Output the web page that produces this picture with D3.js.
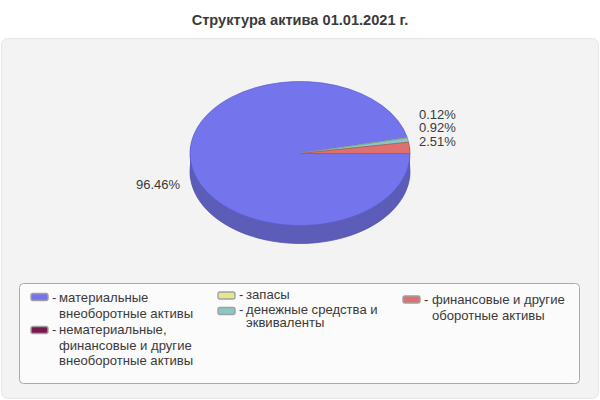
<!DOCTYPE html>
<html>
<head>
<meta charset="utf-8">
<script src="https://d3js.org/d3.v7.min.js"></script>
<style>
  html, body { margin: 0; padding: 0; background: #fff; }
  text { font-family: "Liberation Sans", Arial, sans-serif; fill: #3a3a3a; }
</style>
</head>
<body>
<div class="canvas"></div>
<script>
var title = "Структура актива 01.01.2021 г.";
var categories = ["материальные внеоборотные активы", "нематериальные, финансовые и другие внеоборотные активы", "запасы", "денежные средства и эквиваленты", "финансовые и другие оборотные активы"];
var values = [96.46, 0, 0.12, 0.92, 2.51];
var colors = ["#7474ec", "#78184f", "#e6e68c", "#88c8c8", "#e07070"];
var wallColors = ["#5d5db9", "#601040", "#b8b870", "#6ca0a0", "#b35a5a"];
var edgeColors = ["#5a5acb", "#501038", "#a0a060", "#70a8a0", "#b05050"];
var valueLabels = ["96.46%", "0.12%", "0.92%", "2.51%"];
var legendLines = [
  ["материальные", "внеоборотные активы"],
  ["нематериальные,", "финансовые и другие", "внеоборотные активы"],
  ["запасы"],
  ["денежные средства и", "эквиваленты"],
  ["финансовые и другие", "оборотные активы"]
];

var svg = d3.select(".canvas").append("svg").attr("width", 600).attr("height", 400).style("display", "block");

svg.append("text").attr("x", 300).attr("y", 25).attr("text-anchor", "middle")
  .style("font-size", "14.6px").style("font-weight", "bold").text(title);

svg.append("rect").attr("x", 1.5).attr("y", 38.5).attr("width", 597).attr("height", 360).attr("rx", 6)
  .attr("fill", "#f3f3f3").attr("stroke", "#e6e6e6").attr("stroke-width", 1);

// pie is drawn flat then squashed into an ellipse
var rx = 110, ry = 72, depth = 18;
var pie = d3.pie().sort(null).startAngle(Math.PI / 2).endAngle(Math.PI / 2 + 2 * Math.PI);
var arc = d3.arc().innerRadius(0).outerRadius(rx);
var slices = pie(values);

var chart = svg.append("g").attr("transform", "translate(300,153.5)");

d3.range(depth, 0, -1).forEach(function(dy) {
  chart.append("g")
    .attr("transform", "translate(0," + dy + ") scale(1," + (ry / rx) + ")")
    .selectAll("path").data(slices).enter().append("path")
    .attr("d", arc)
    .attr("fill", function(d, i) { return wallColors[i]; })
    .attr("stroke", function(d, i) { return dy == depth && values[i] > 0 ? "#4a4aa8" : "none"; })
    .attr("stroke-width", 0.7)
    .attr("vector-effect", "non-scaling-stroke");
});

chart.append("g")
  .attr("transform", "scale(1," + (ry / rx) + ")")
  .selectAll("path").data(slices).enter().append("path")
  .attr("d", arc)
  .attr("fill", function(d, i) { return colors[i]; })
  .attr("stroke", function(d, i) { return values[i] > 0 ? edgeColors[i] : "none"; })
  .attr("stroke-width", 0.7)
  .attr("vector-effect", "non-scaling-stroke");

// value labels
var labelPos = [[136, 189], [419, 119], [419, 132], [419, 146]];
svg.append("g").selectAll("text").data(valueLabels).enter().append("text")
  .attr("x", function(d, i) { return labelPos[i][0]; })
  .attr("y", function(d, i) { return labelPos[i][1]; })
  .style("font-size", "13px")
  .text(function(d) { return d; });

// legend
svg.append("rect").attr("x", 19.5).attr("y", 283.5).attr("width", 560).attr("height", 100).attr("rx", 4)
  .attr("fill", "#fbfbfb").attr("stroke", "#aaa").attr("stroke-width", 1);

var legendPos = [
  { x: 31, swatchY: 293.5, textY: 302, lineH: 16 },
  { x: 31, swatchY: 326.5, textY: 334, lineH: 15.5 },
  { x: 218, swatchY: 292, textY: 299, lineH: 15 },
  { x: 218, swatchY: 307.5, textY: 314, lineH: 13 },
  { x: 403, swatchY: 296, textY: 304, lineH: 16 }
];

var legend = svg.append("g").selectAll("g").data(legendLines).enter().append("g");

legend.append("rect")
  .attr("x", function(d, i) { return legendPos[i].x; })
  .attr("y", function(d, i) { return legendPos[i].swatchY; })
  .attr("width", 17).attr("height", 7).attr("rx", 2)
  .attr("fill", function(d, i) { return colors[i]; })
  .attr("stroke", "#a0a0a0").attr("stroke-width", 1.4);

legend.append("text")
  .attr("x", function(d, i) { return legendPos[i].x + 21; })
  .attr("y", function(d, i) { return legendPos[i].textY; })
  .style("font-size", "13px")
  .text("-");

legend.each(function(lines, i) {
  d3.select(this).selectAll("text.line").data(lines).enter().append("text")
    .attr("class", "line")
    .attr("x", legendPos[i].x + (i == 4 ? 29 : 28))
    .attr("y", function(d, j) { return legendPos[i].textY + j * legendPos[i].lineH; })
    .style("font-size", "13.1px")
    .text(function(d) { return d; });
});
</script>
</body>
</html>
